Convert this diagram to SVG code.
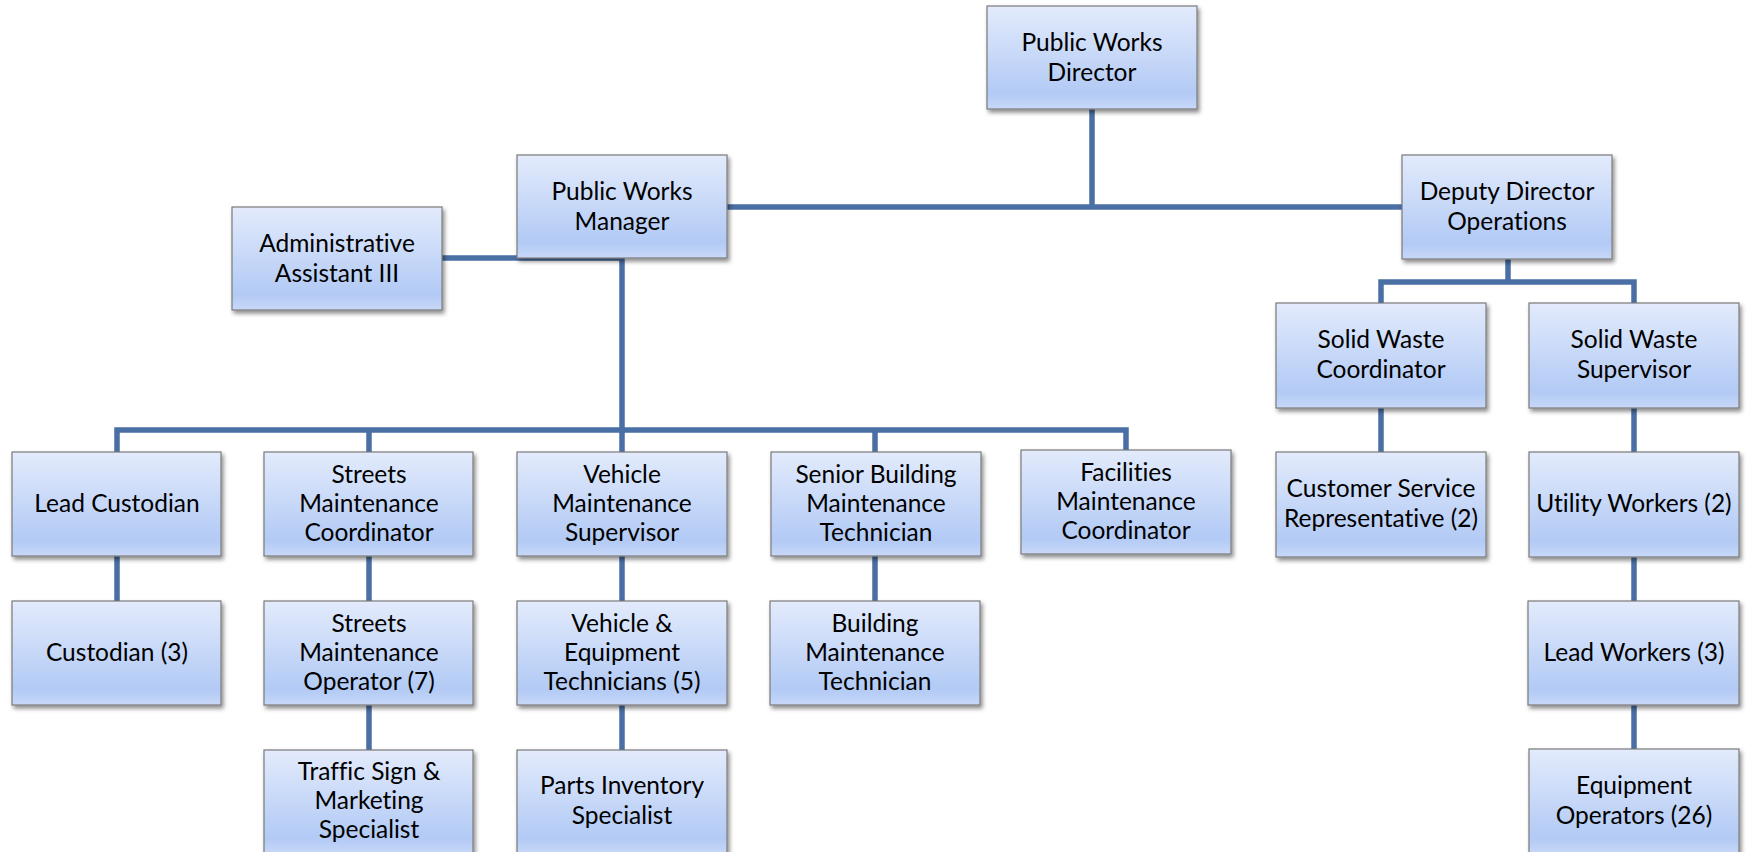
<svg xmlns="http://www.w3.org/2000/svg" width="1747" height="852" viewBox="0 0 1747 852">
<defs>
<linearGradient id="bg" x1="0" y1="0" x2="0" y2="1">
<stop offset="0" stop-color="#e3ebfc"/>
<stop offset="0.85" stop-color="#b2caf5"/>
<stop offset="1" stop-color="#c8d8f8"/>
</linearGradient>
<filter id="sh" x="-10%" y="-10%" width="125%" height="130%">
<feDropShadow dx="2" dy="3" stdDeviation="2" flood-color="#000" flood-opacity="0.45"/>
</filter>
</defs>
<style>
.box{fill:url(#bg);stroke:#7a7a7a;stroke-width:1.2;filter:url(#sh)}
.t{font-family:Lato,"Liberation Sans",sans-serif;font-size:24.5px;fill:#000;text-anchor:middle;font-variant-ligatures:none}
.c{stroke:#4a6fa5;stroke-width:5.5;fill:none;stroke-linecap:butt;stroke-linejoin:miter}
</style>
<rect width="1747" height="852" fill="#fff"/>
<g id="connectors">
<path class="c" d="M1092 109V207M727 207H1402"/>
<path class="c" d="M442 258H622M622 258V430"/>
<path class="c" d="M117 452V430H1126V452M369 430V452M622 430V452M875 430V452"/>
<path class="c" d="M117 556V601M369 556V601M622 556V601M875 556V601"/>
<path class="c" d="M369 705V750M622 705V750"/>
<path class="c" d="M1508 259V282M1381 303V282H1634V303"/>
<path class="c" d="M1381 408V452M1634 408V452M1634 556V601M1634 705V750"/>
</g>
<g id="n-director"><rect class="box" x="987" y="6" width="210" height="103"/><text class="t" x="1092" y="51">Public Works</text><text class="t" x="1092" y="81">Director</text></g>
<g id="n-manager"><rect class="box" x="517" y="155" width="210" height="103"/><text class="t" x="622" y="200">Public Works</text><text class="t" x="622" y="230">Manager</text></g>
<g id="n-deputy"><rect class="box" x="1402" y="155" width="210" height="104"/><text class="t" x="1507" y="200">Deputy Director</text><text class="t" x="1507" y="230">Operations</text></g>
<g id="n-admin"><rect class="box" x="232" y="207" width="210" height="103"/><text class="t" x="337" y="252">Administrative</text><text class="t" x="337" y="282">Assistant III</text></g>
<g id="n-swc"><rect class="box" x="1276" y="303" width="210" height="105"/><text class="t" x="1381" y="348">Solid Waste</text><text class="t" x="1381" y="378">Coordinator</text></g>
<g id="n-sws"><rect class="box" x="1529" y="303" width="210" height="105"/><text class="t" x="1634" y="348">Solid Waste</text><text class="t" x="1634" y="378">Supervisor</text></g>
<g id="n-leadcust"><rect class="box" x="12" y="452" width="209" height="104"/><text class="t" x="117" y="512">Lead Custodian</text></g>
<g id="n-smc"><rect class="box" x="264" y="452" width="209" height="104"/><text class="t" x="369" y="483">Streets</text><text class="t" x="369" y="512">Maintenance</text><text class="t" x="369" y="541">Coordinator</text></g>
<g id="n-vms"><rect class="box" x="517" y="452" width="210" height="104"/><text class="t" x="622" y="483">Vehicle</text><text class="t" x="622" y="512">Maintenance</text><text class="t" x="622" y="541">Supervisor</text></g>
<g id="n-sbmt"><rect class="box" x="771" y="452" width="210" height="104"/><text class="t" x="876" y="483">Senior Building</text><text class="t" x="876" y="512">Maintenance</text><text class="t" x="876" y="541">Technician</text></g>
<g id="n-fmc"><rect class="box" x="1021" y="450" width="210" height="104"/><text class="t" x="1126" y="481">Facilities</text><text class="t" x="1126" y="510">Maintenance</text><text class="t" x="1126" y="539">Coordinator</text></g>
<g id="n-csr"><rect class="box" x="1276" y="452" width="210" height="105"/><text class="t" x="1381" y="497">Customer Service</text><text class="t" x="1381" y="527">Representative (2)</text></g>
<g id="n-uw"><rect class="box" x="1529" y="452" width="210" height="105"/><text class="t" x="1634" y="512">Utility Workers (2)</text></g>
<g id="n-cust"><rect class="box" x="12" y="601" width="209" height="104"/><text class="t" x="117" y="661">Custodian (3)</text></g>
<g id="n-smo"><rect class="box" x="264" y="601" width="209" height="104"/><text class="t" x="369" y="632">Streets</text><text class="t" x="369" y="661">Maintenance</text><text class="t" x="369" y="690">Operator (7)</text></g>
<g id="n-vet"><rect class="box" x="517" y="601" width="210" height="104"/><text class="t" x="622" y="632">Vehicle &amp;</text><text class="t" x="622" y="661">Equipment</text><text class="t" x="622" y="690">Technicians (5)</text></g>
<g id="n-bmt"><rect class="box" x="770" y="601" width="210" height="104"/><text class="t" x="875" y="632">Building</text><text class="t" x="875" y="661">Maintenance</text><text class="t" x="875" y="690">Technician</text></g>
<g id="n-lw"><rect class="box" x="1528" y="601" width="211" height="104"/><text class="t" x="1634" y="661">Lead Workers (3)</text></g>
<g id="n-tsm"><rect class="box" x="264" y="750" width="209" height="104"/><text class="t" x="369" y="780">Traffic Sign &amp;</text><text class="t" x="369" y="809">Marketing</text><text class="t" x="369" y="838">Specialist</text></g>
<g id="n-pis"><rect class="box" x="517" y="750" width="210" height="104"/><text class="t" x="622" y="794">Parts Inventory</text><text class="t" x="622" y="824">Specialist</text></g>
<g id="n-eo"><rect class="box" x="1529" y="749" width="210" height="105"/><text class="t" x="1634" y="794">Equipment</text><text class="t" x="1634" y="824">Operators (26)</text></g>
</svg>
